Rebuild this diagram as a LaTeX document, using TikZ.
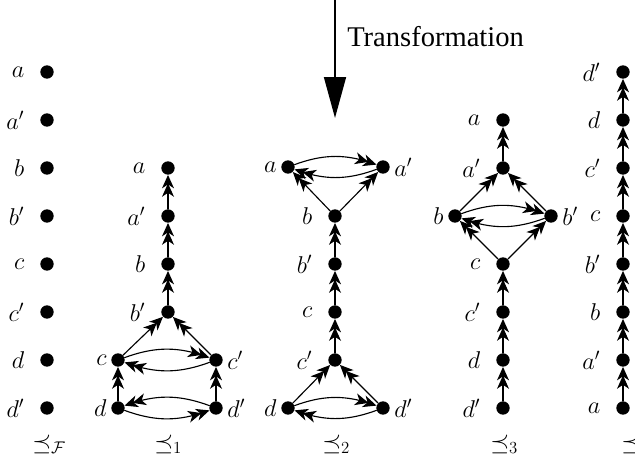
\documentclass[tikz,border=0pt]{standalone}
\usepackage{fontspec}
\usepackage{amssymb}
\usetikzlibrary{arrows.meta,bending}
\newfontfamily\capfont{Liberation Serif}

\begin{document}
\begin{tikzpicture}[x=0.025cm,y=-0.025cm,line cap=round,line join=round,
    every node/.style={font=\fontsize{16.5}{19}\selectfont},
    every label/.style={inner sep=1pt},
    dot/.style={circle,fill=black,inner sep=0pt,minimum size=9.5pt},
    far/.style={label distance=10pt},
    near/.style={label distance=2pt},
    arr/.style={line width=0.8pt,
        -{Stealth[length=9.5pt,width=8.5pt,inset=2.8pt,sep=-3.5pt]Stealth[length=9.5pt,width=8.5pt,inset=2.8pt]}}]
    \useasboundingbox (0,0) rectangle (635,465);

    % transformation arrow
    \coordinate (trtop) at (335,0);
    \coordinate (trtip) at (335,118);
    \draw[line width=1.4pt,-{Triangle[length=29pt,width=15.5pt]}] (trtop) -- (trtip);
    \node[anchor=base west,inner sep=0pt,font=\capfont\fontsize{20.3}{24}\selectfont]
        (trlabel) at (347,47) {Transformation};

    % preorder F
    \node[dot,label={[far]left:$a$}]  (aF)  at (47,72) {};
    \node[dot,label={[far]left:$a'$}] (apF) at (47,120) {};
    \node[dot,label={[far]left:$b$}]  (bF)  at (47,168) {};
    \node[dot,label={[far]left:$b'$}] (bpF) at (47,216) {};
    \node[dot,label={[far]left:$c$}]  (cF)  at (47,264) {};
    \node[dot,label={[far]left:$c'$}] (cpF) at (47,312) {};
    \node[dot,label={[far]left:$d$}]  (dF)  at (47,360) {};
    \node[dot,label={[far]left:$d'$}] (dpF) at (47,408) {};

    % preorder 1
    \node[dot,label={[far]left:$a$}]    (a1)  at (168,168) {};
    \node[dot,label={[far]left:$a'$}]   (ap1) at (168,216) {};
    \node[dot,label={[far]left:$b$}]    (b1)  at (168,264) {};
    \node[dot,label={[far]left:$b'$}]   (bp1) at (168,312) {};
    \node[dot,label={[near]left:$c$}]   (c1)  at (118,360) {};
    \node[dot,label={[near]right:$c'$}] (cp1) at (216,360) {};
    \node[dot,label={[near]left:$d$}]   (d1)  at (118,408) {};
    \node[dot,label={[near]right:$d'$}] (dp1) at (216,408) {};

    \draw[arr] (ap1) -- (a1);
    \draw[arr] (b1) -- (ap1);
    \draw[arr] (bp1) -- (b1);
    \draw[arr] (c1) -- (bp1);
    \draw[arr] (cp1) -- (bp1);
    \draw[arr] (c1) to[bend left=20] (cp1);
    \draw[arr] (cp1) to[bend left=20] (c1);
    \draw[arr] (d1) -- (c1);
    \draw[arr] (dp1) -- (cp1);
    \draw[arr] (dp1) to[bend right=20] (d1);
    \draw[arr] (d1) to[bend right=20] (dp1);

    % preorder 2
    \node[dot,label={[near]left:$a$}]   (a2)  at (288,167) {};
    \node[dot,label={[near]right:$a'$}] (ap2) at (383,167) {};
    \node[dot,label={[far]left:$b$}]    (b2)  at (335,216) {};
    \node[dot,label={[far]left:$b'$}]   (bp2) at (335,264) {};
    \node[dot,label={[far]left:$c$}]    (c2)  at (335,312) {};
    \node[dot,label={[far]left:$c'$}]   (cp2) at (335,360) {};
    \node[dot,label={[near]left:$d$}]   (d2)  at (288,408) {};
    \node[dot,label={[near]right:$d'$}] (dp2) at (383,408) {};

    \draw[arr] (a2) to[bend left=20] (ap2);
    \draw[arr] (ap2) to[bend left=20] (a2);
    \draw[arr] (b2) -- (a2);
    \draw[arr] (b2) -- (ap2);
    \draw[arr] (bp2) -- (b2);
    \draw[arr] (c2) -- (bp2);
    \draw[arr] (cp2) -- (c2);
    \draw[arr] (d2) -- (cp2);
    \draw[arr] (dp2) -- (cp2);
    \draw[arr] (d2) to[bend left=20] (dp2);
    \draw[arr] (dp2) to[bend left=20] (d2);

    % preorder 3
    \node[dot,label={[far]left:$a$}]    (a3)  at (503,120) {};
    \node[dot,label={[far]left:$a'$}]   (ap3) at (503,168) {};
    \node[dot,label={[near]left:$b$}]   (b3)  at (455,216) {};
    \node[dot,label={[near]right:$b'$}] (bp3) at (551,216) {};
    \node[dot,label={[far]left:$c$}]    (c3)  at (503,264) {};
    \node[dot,label={[far]left:$c'$}]   (cp3) at (503,312) {};
    \node[dot,label={[far]left:$d$}]    (d3)  at (503,360) {};
    \node[dot,label={[far]left:$d'$}]   (dp3) at (503,408) {};

    \draw[arr] (ap3) -- (a3);
    \draw[arr] (b3) -- (ap3);
    \draw[arr] (bp3) -- (ap3);
    \draw[arr] (b3) to[bend left=20] (bp3);
    \draw[arr] (bp3) to[bend left=20] (b3);
    \draw[arr] (c3) -- (b3);
    \draw[arr] (c3) -- (bp3);
    \draw[arr] (cp3) -- (c3);
    \draw[arr] (d3) -- (cp3);
    \draw[arr] (dp3) -- (d3);

    % preorder 4
    \node[dot,label={[far]left:$d'$}] (dp4) at (623,72) {};
    \node[dot,label={[far]left:$d$}]  (d4)  at (623,120) {};
    \node[dot,label={[far]left:$c'$}] (cp4) at (623,168) {};
    \node[dot,label={[far]left:$c$}]  (c4)  at (623,216) {};
    \node[dot,label={[far]left:$b'$}] (bp4) at (623,264) {};
    \node[dot,label={[far]left:$b$}]  (b4)  at (623,312) {};
    \node[dot,label={[far]left:$a'$}] (ap4) at (623,360) {};
    \node[dot,label={[far]left:$a$}]  (a4)  at (623,408) {};

    \draw[arr] (a4) -- (ap4);
    \draw[arr] (ap4) -- (b4);
    \draw[arr] (b4) -- (bp4);
    \draw[arr] (bp4) -- (c4);
    \draw[arr] (c4) -- (cp4);
    \draw[arr] (cp4) -- (d4);
    \draw[arr] (d4) -- (dp4);

    % names of the preorders
    \node[anchor=base west,inner sep=0pt] (nameF) at (32,450)  {$\preceq_{\mathcal{F}}$};
    \node[anchor=base west,inner sep=0pt] (name1) at (154,450) {$\preceq_1$};
    \node[anchor=base west,inner sep=0pt] (name2) at (322,450) {$\preceq_2$};
    \node[anchor=base west,inner sep=0pt] (name3) at (490,450) {$\preceq_3$};
    \node[anchor=base west,inner sep=0pt] (name4) at (621,450) {$\preceq_4$};
\end{tikzpicture}
\end{document}
